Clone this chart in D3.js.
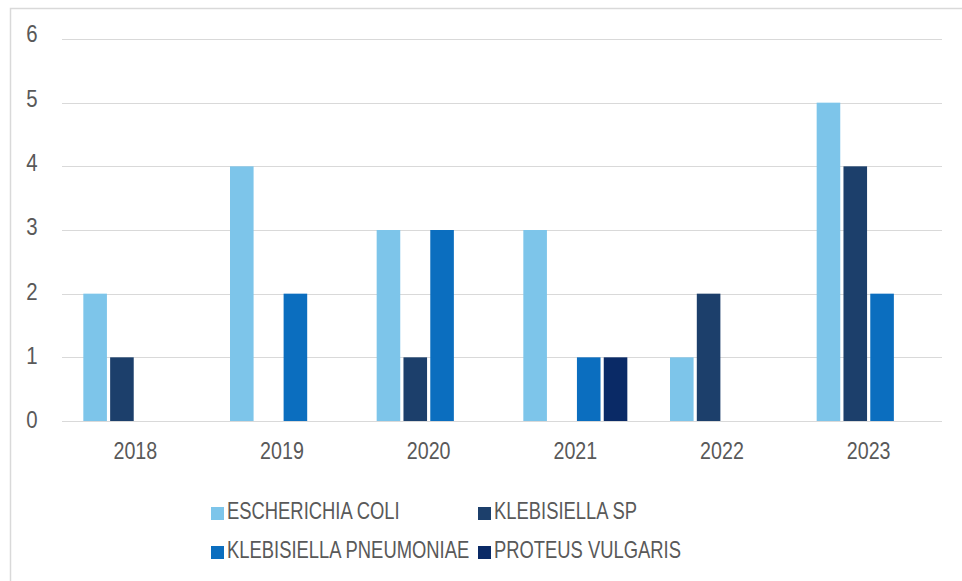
<!DOCTYPE html>
<html><head><meta charset="utf-8">
<script src="https://cdn.jsdelivr.net/npm/d3@7"></script>
<style>
html,body{margin:0;padding:0;background:#fff;}
svg{display:block;}
text{font-family:"Liberation Sans",Arial,sans-serif;fill:#595959;}
</style></head>
<body>
<svg id="chart" width="962" height="581"></svg>
<script>
const years = ["2018","2019","2020","2021","2022","2023"];
const seriesNames = ["ESCHERICHIA COLI","KLEBISIELLA SP","KLEBISIELLA PNEUMONIAE","PROTEUS VULGARIS"];
const escherichiaColi = [2,4,3,3,1,5];
const klebsiellaSp = [1,0,1,0,2,4];
const klebsiellaPneumoniae = [0,2,3,1,0,2];
const proteusVulgaris = [0,0,0,1,0,0];
const yTicks = [0,1,2,3,4,5,6];
const colors = ["#7dc5ea","#1c3f6b","#0b6ebf","#0a2a66"];

const seriesValues = [escherichiaColi, klebsiellaSp, klebsiellaPneumoniae, proteusVulgaris];
const svg = d3.select("#chart");
const SX = 0.8;

// frame
svg.append("path").attr("d","M10.5,581 L10.5,8.5 L962,8.5")
  .attr("fill","none").attr("stroke","#d9d9d9").attr("stroke-width",1.5);

const x0 = d3.scaleBand().domain(years).range([62,942]).padding(0);
const x1 = d3.scaleBand().domain(seriesNames).range([-52,52]).paddingInner(0.12);
const y = d3.scaleLinear().domain([0,6]).range([421,39]);
const yLab = d3.scaleLinear().domain([0,6]).range([420,34]);

// gridlines
svg.append("g").selectAll("line").data(yTicks).join("line")
  .attr("x1",62).attr("x2",942)
  .attr("y1",d=>Math.round(y(d))+0.5).attr("y2",d=>Math.round(y(d))+0.5)
  .attr("stroke","#d9d9d9").attr("stroke-width",1.2);

// y labels
svg.append("g").selectAll("text").data(yTicks).join("text")
  .attr("transform",d=>`translate(32,${yLab(d)}) scale(0.85,1)`)
  .attr("dy","0.35em")
  .attr("text-anchor","middle").attr("font-size",24).text(d=>d);

// bars
const groups = svg.append("g").selectAll("g").data(years).join("g")
  .attr("transform",d=>`translate(${x0(d)+x0.bandwidth()/2},0)`);
groups.selectAll("rect").data((yr,i)=>seriesNames.map((s,j)=>({s,j,v:seriesValues[j][i]})).filter(d=>d.v>0))
  .join("rect")
  .attr("x",d=>x1(d.s)).attr("width",x1.bandwidth())
  .attr("y",d=>y(d.v)).attr("height",d=>y(0)-y(d.v))
  .attr("fill",d=>colors[d.j]);

// x labels
svg.append("g").selectAll("text").data(years).join("text")
  .attr("transform",d=>`translate(${x0(d)+x0.bandwidth()/2},459) scale(0.82,1)`)
  .attr("text-anchor","middle").attr("font-size",24).text(d=>d);

// legend
const legendPos = [[211,519],[478,519],[211,558],[478,558]];
const lg = svg.append("g").selectAll("g").data(seriesNames).join("g")
  .attr("transform",(d,i)=>`translate(${legendPos[i][0]},${legendPos[i][1]})`);
lg.append("rect").attr("x",0).attr("y",-12).attr("width",13).attr("height",13)
  .attr("fill",(d,i)=>colors[i]);
lg.append("text").attr("transform",`translate(16,0) scale(${SX},1)`)
  .attr("font-size",23).text(d=>d);
</script>
</body></html>
